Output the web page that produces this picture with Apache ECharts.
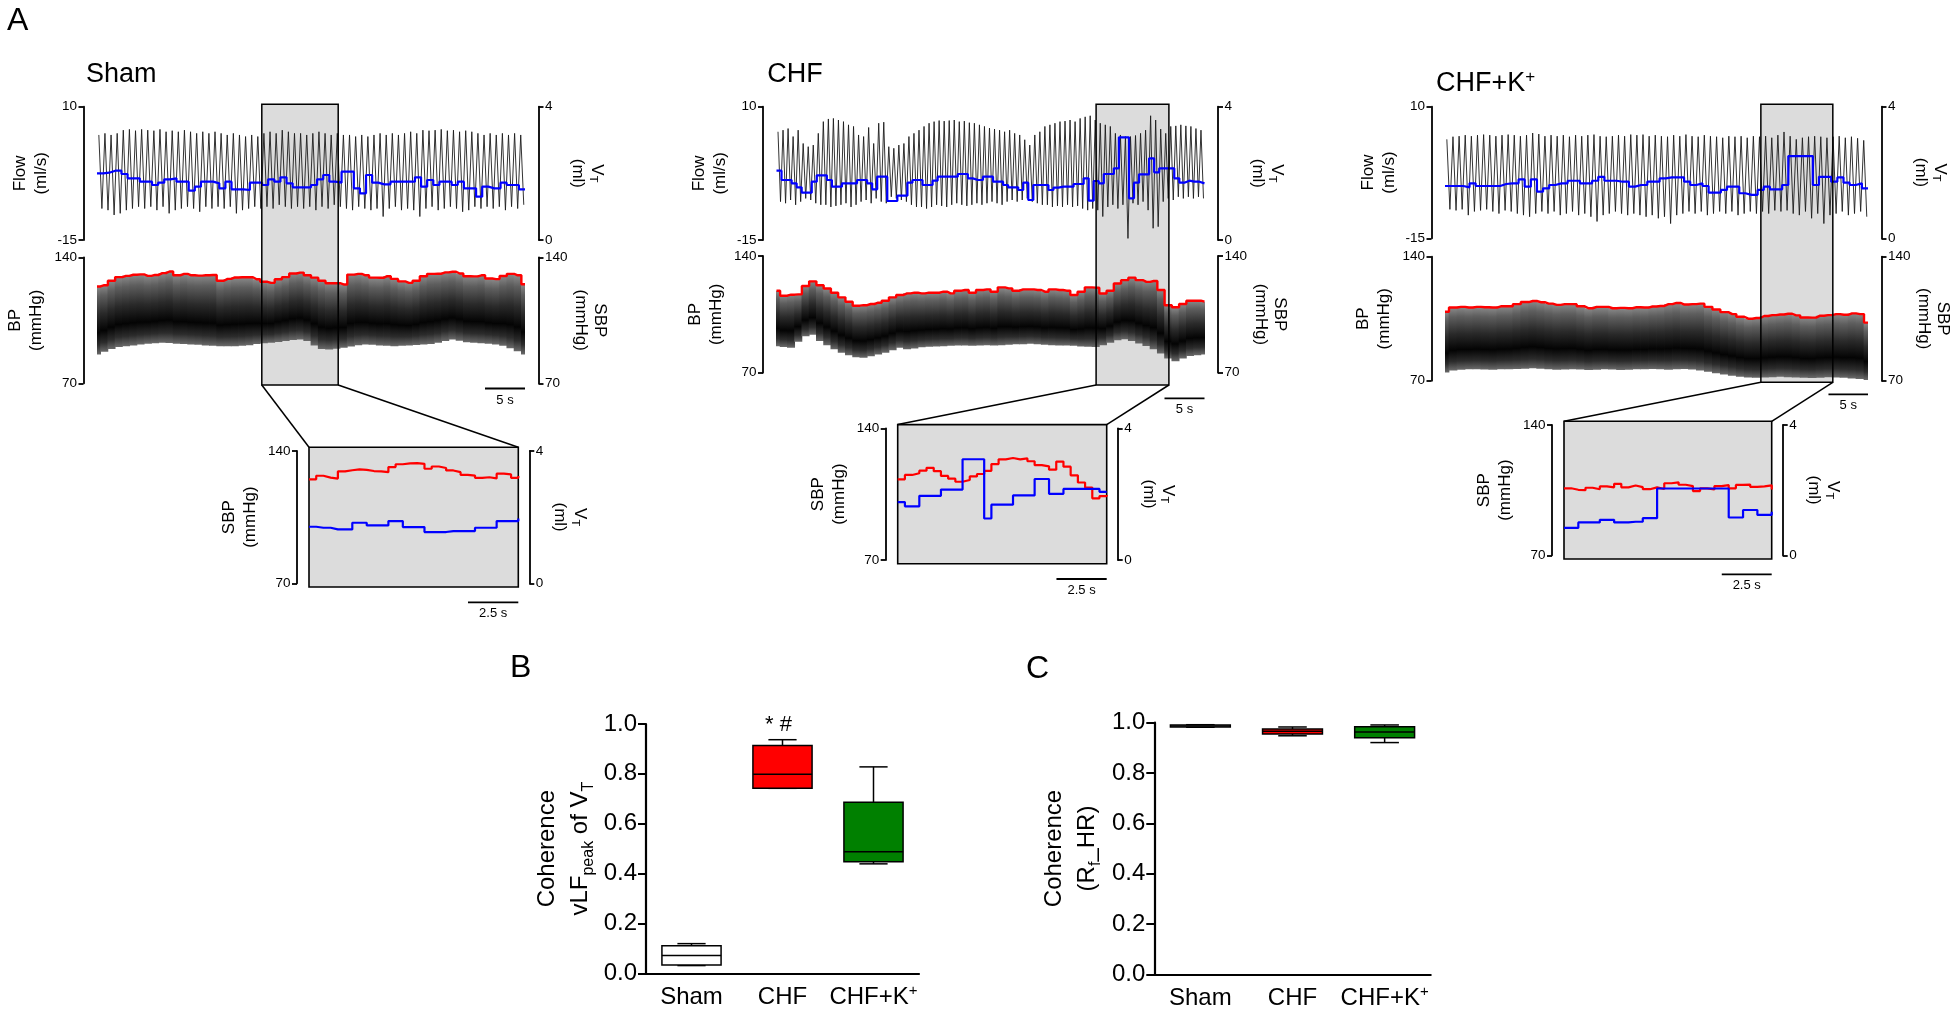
<!DOCTYPE html>
<html><head><meta charset="utf-8">
<script src="https://cdn.jsdelivr.net/npm/echarts@6.0.0/dist/echarts.min.js"></script>
<style>html,body{margin:0;padding:0;background:#fff}#c{width:1960px;height:1014px}</style>
</head><body><div id="c"></div>
<script>
// ===================== DATA =====================
const traceDuration = 53.5;   // s, main traces
const insetDuration = 10.4;   // s, zoomed insets
const flowTicks = [-15, 10];
const vtTicks = [0, 4];
const bpTicks = [70, 140];

// ---- Sham ----
const shamFlowPeak = [4.7,5.0,4.7,5.0, 5.6,5.75,5.5,5.75,5.6,5.5,5.75,5.3,5.5,5.3,5.6, 5.3,5.0,5.3,5.0,5.3, 5.0,4.7,5.0,4.7,4.4,4.7,4.4, 5.0,5.3,5.0,5.6,5.3,5.0, 5.0,4.7,5.0,5.3,5.0,4.7,5.0,4.7, 4.7,4.4,4.7,4.4,4.7,5.0, 4.7,5.0,4.7,5.0,5.3,5.0, 5.6,5.5,5.6,5.75,5.5,5.6,5.3,5.5, 5.3,5.0,4.7,5.0,4.7,5.0,4.7,5.0,4.7];
const shamFlowTrough = [-9.1,-9.4,-10.3,-10.0, -9.4,-9.1,-8.75,-9.1,-8.75,-9.4,-8.75,-10.0,-9.4,-9.1,-8.75, -9.1,-9.7,-8.75,-9.1,-8.75, -9.1,-8.75,-10.0,-9.4,-9.1,-8.75,-9.1, -8.75,-9.1,-8.4,-8.75,-9.1,-8.75, -9.1,-8.75,-9.4,-8.75,-9.1,-8.4,-8.75,-9.1, -9.4,-8.75,-9.1,-9.4,-9.1,-10.6, -9.1,-8.75,-9.4,-9.1,-9.4,-10.6, -9.1,-8.75,-9.4,-9.1,-8.75,-9.1,-9.7,-9.4, -8.75,-9.1,-8.75,-9.1,-8.75,-9.4,-8.75,-9.1,-8.4];
const shamVT = [2.00,2.02,2.08,2.08,1.98,1.85,1.85,1.75,1.75,1.65, 1.72,1.82,1.85,1.75,1.75,1.48,1.60,1.75,1.75,1.70, 1.55,1.75,1.52,1.52,1.50,1.72,1.72,1.65,1.82,1.75, 1.88,1.70,1.58,1.58,1.58,1.65,1.82,1.95,1.75,1.72, 2.05,2.05,1.55,1.40,1.95,1.72,1.67,1.67,1.75,1.75, 1.75,1.75,1.88,1.60,1.80,1.65,1.75,1.75,1.65,1.75, 1.55,1.55,1.30,1.60,1.55,1.55,1.72,1.65,1.65,1.52];
const shamSBP = [123.8,124.5,127.0,129.0,129.7,130.3,130.5,129.7,130.2,131.2, 132.1,130.0,130.8,130.0,129.8,130.0,130.2,127.0,128.0,128.8, 128.9,128.9,127.8,126.4,125.8,127.8,129.0,131.0,131.5,130.0, 128.7,127.0,125.6,125.6,124.9,130.4,130.8,130.0,128.7,128.6, 129.5,128.0,126.6,125.8,127.0,129.5,130.8,130.9,131.6,132.0, 131.0,129.5,129.4,130.0,128.2,127.9,129.6,130.8,130.0,125.0];
const shamDBP = [86.0,87.5,89.0,90.2,90.6,91.0,91.5,92.0,92.3,92.5, 92.4,92.0,91.8,91.6,91.4,91.0,90.8,90.6,90.6,90.6, 90.8,91.2,91.8,92.3,92.5,93.0,93.5,94.0,94.3,93.5, 91.0,89.0,88.8,89.2,89.7,90.5,91.2,91.6,91.4,91.0, 90.8,90.6,90.8,91.0,91.3,91.6,91.8,92.5,93.5,94.3, 93.6,92.8,92.5,92.2,92.0,91.6,90.8,89.5,87.8,86.0];
const shamInsetSBP = [125.0,126.9,125.9,125.4,129.2,129.8,130.3,130.0,129.4,129.2, 128.8,131.5,133.0,133.5,133.6,133.2,130.6,131.8,131.0,129.7, 128.8,127.4,127.0,125.8,126.1,125.5,128.0,127.6,125.8,126.8];
const shamInsetVT = [1.71,1.68,1.68,1.63,1.63,1.63,1.83,1.83,1.75,1.75, 1.75,1.88,1.88,1.70,1.70,1.70,1.55,1.55,1.55,1.58, 1.58,1.58,1.58,1.68,1.68,1.68,1.88,1.88,1.88,1.96];
const shamWindow = [20.6, 30.15];

// ---- CHF ----
const chfFlowPeak = [5.3,5.6,5.9,4.4,5.6,3.1,2.5,2.8,5.0, 7.2,7.7,7.8,7.5,7.2,6.6,6.3,4.7, 4.4,6.1,3.1,6.9,7.1, 2.5,2.2,2.8,3.1,4.4,5.0, 5.6,6.3,6.9,7.2,7.4,7.3,7.4,7.5,7.2,7.3,7.0,6.9,6.6,6.3,6.0,5.8,5.6,5.3,5.6,5.0,4.7, 3.8,2.8,4.7,5.3, 6.3,6.6,6.9,7.2,7.3,7.5,7.2,7.8,8.1,8.3, 7.5,6.9,6.6,6.3,5.0,4.7,4.4, 4.4,4.6,5.0,5.6,8.3,7.5,5.8,5.0,6.3,6.4,6.6,6.4,6.3,5.9,5.6];
const chfFlowTrough = [-7.8,-8.1,-7.5,-8.4,-7.8,-7.2,-7.5,-8.1,-8.4, -8.4,-8.8,-8.6,-8.4,-8.1,-8.8,-8.4,-7.8, -7.5,-8.1,-7.2,-7.8,-8.1, -6.9,-7.2,-7.5,-7.8,-8.4,-8.8, -8.8,-9.1,-8.8,-8.4,-8.6,-8.8,-8.4,-8.1,-8.4,-8.6,-8.4,-8.1,-8.4,-8.1,-7.8,-8.1,-8.4,-7.8,-7.5,-7.8,-7.5, -7.2,-7.8,-8.1,-8.4, -8.4,-8.8,-8.6,-8.8,-8.4,-8.8,-8.6,-9.1,-9.4,-9.1, -9.4,-10.6,-8.8,-8.4,-9.1,-8.4,-14.7, -8.1,-8.4,-7.8,-9.4,-12.8,-12.5,-7.8,-7.2,-7.5,-6.9,-7.2,-6.9,-7.2,-6.9,-7.2];
const chfVT = [2.08,1.80,1.80,1.70,1.58,1.42,1.42,1.75,1.94,1.94, 1.80,1.60,1.60,1.70,1.70,1.70,1.80,1.80,1.70,1.52, 1.90,1.90,1.17,1.17,1.33,1.33,1.72,1.80,1.80,1.65, 1.65,1.78,1.90,1.90,1.90,1.90,1.98,1.98,1.85,1.80, 1.80,1.90,1.90,1.75,1.75,1.65,1.58,1.58,1.50,1.72, 1.20,1.65,1.65,1.65,1.50,1.57,1.60,1.60,1.60,1.68, 1.68,1.85,1.18,1.77,1.70,1.98,1.98,2.15,3.08,3.08, 1.25,1.72,1.97,1.97,2.45,2.03,2.15,2.15,2.15,1.85, 1.72,1.78,1.75,1.75,1.70];
const chfSBP = [119.2,116.2,116.8,117.0,122.0,124.8,122.5,120.5,118.0,115.2, 112.6,110.2,110.5,111.2,112.0,113.2,115.2,116.6,117.6,118.0, 117.6,118.0,118.0,118.6,117.6,119.2,119.6,118.0,119.6,120.0, 118.6,121.2,120.6,119.2,120.0,120.0,119.6,118.6,120.0,119.6, 119.2,116.6,118.6,121.2,121.0,117.5,119.2,123.5,125.5,127.0, 125.5,124.5,125.0,119.6,110.5,109.3,111.2,113.2,113.2,112.6];
const chfDBP = [85.9,85.4,84.9,88.5,91.8,92.8,89.0,86.5,84.0,81.9, 80.5,79.3,78.9,79.8,80.9,82.0,83.5,84.9,84.0,84.5, 85.2,85.5,85.7,85.9,86.1,86.3,86.3,86.1,86.3,86.5, 86.3,86.5,86.8,87.0,87.1,87.3,87.1,86.7,86.5,86.3, 86.3,86.1,85.7,85.5,85.4,86.5,88.0,89.5,90.0,89.0, 87.5,86.0,84.0,81.5,78.5,76.9,78.5,80.0,80.5,80.9];
const chfInsetSBP = [112.9,115.2,116.1,117.5,119.0,117.2,114.7,113.2,111.6,112.5, 114.4,115.7,117.4,121.0,123.5,124.2,123.5,124.0,122.5,120.4, 119.8,118.0,122.3,119.6,115.0,111.2,108.5,102.8,104.0,104.6];
const chfInsetVT = [1.76,1.63,1.63,1.95,1.95,1.95,2.14,2.14,2.14,3.06, 3.06,3.06,1.26,1.68,1.68,1.68,1.96,1.96,1.96,2.46, 2.46,2.01,2.01,2.16,2.16,2.16,2.16,2.16,2.07,2.07];
const chfWindow = [39.95, 49.05];

// ---- CHF+K+ ----
const chfkFlowPeak = [3.8,4.3,4.4,4.6,4.4,4.6,4.7,4.6,4.4,4.6, 4.7,4.6,4.4,4.6,5.0,4.8,4.4,4.6,4.4,4.6, 4.3,4.6,4.4,4.6,4.7,4.4,4.3,4.4,4.6,4.4, 4.7,4.6,4.7,4.4,4.6,4.4,4.3,4.6,4.4,4.7, 4.4,4.3,4.6,4.4,4.3,4.1,4.4,4.3,4.4,4.1, 4.4,4.3,4.4,4.1,4.6,5.2,4.4,3.8,4.1,4.3, 4.4,4.3,4.1,4.3,4.4,4.1,4.3,4.0,3.6];
const chfkFlowTrough = [-9.5,-9.7,-9.5,-10.6,-9.9,-9.7,-9.5,-9.9,-10.3,-9.7, -9.9,-10.3,-10.6,-10.9,-10.3,-9.9,-10.3,-9.9,-10.6,-10.3, -9.9,-10.6,-10.3,-10.9,-11.8,-10.6,-10.3,-9.9,-10.3,-10.6, -10.3,-10.6,-10.9,-10.6,-11.2,-10.9,-12.2,-10.6,-10.3,-9.9, -10.3,-9.9,-10.6,-10.3,-9.9,-10.3,-9.9,-10.6,-10.3,-9.9, -10.3,-9.9,-10.3,-9.7,-9.9,-9.7,-10.3,-10.6,-9.9,-11.2, -10.3,-12.2,-10.6,-10.3,-9.9,-10.6,-10.3,-9.9,-10.9];
const chfkVT = [1.59,1.59,1.59,1.55,1.67,1.59,1.59,1.59,1.59,1.65, 1.67,1.67,1.79,1.57,1.79,1.42,1.52,1.62,1.67,1.67, 1.75,1.75,1.67,1.67,1.75,1.87,1.75,1.75,1.72,1.72, 1.57,1.62,1.62,1.72,1.72,1.82,1.85,1.85,1.85,1.72, 1.62,1.67,1.59,1.39,1.39,1.47,1.57,1.57,1.37,1.32, 1.32,1.47,1.57,1.49,1.49,1.62,2.50,2.50,2.50,2.50, 1.62,1.87,1.87,1.72,1.85,1.69,1.62,1.67,1.52];
const chfkSBP = [108.9,111.3,111.7,111.3,111.7,111.5,111.3,112.0,112.0,113.2, 114.4,115.0,114.3,113.5,112.8,113.2,113.2,112.0,110.9,111.7, 111.7,110.9,111.1,110.9,111.5,111.3,111.9,112.2,113.2,113.9, 113.0,113.2,113.5,111.7,110.2,108.7,107.6,106.1,105.0,105.4, 106.5,107.0,107.4,107.8,106.9,105.7,105.6,106.7,107.0,107.6, 107.2,108.0,107.6,102.8];
const chfkDBP = [74.6,75.8,76.2,76.4,76.5,76.3,76.2,76.4,76.5,76.6, 76.8,77.0,76.8,76.4,76.2,76.3,76.5,76.3,76.0,76.2, 76.4,76.3,76.1,76.2,76.4,76.5,76.6,76.4,76.2,76.4, 76.6,76.3,75.8,75.0,74.2,73.5,72.8,72.2,71.8,71.6, 71.8,72.0,72.2,72.0,71.8,71.6,71.5,71.7,71.9,71.8, 71.6,71.3,71.0,70.4];
const chfkInsetSBP = [106.0,105.2,105.0,106.3,105.5,107.0,106.5,108.4,106.5,107.5, 106.6,105.5,106.5,105.6,108.7,109.2,107.9,107.2,104.5,106.0, 105.4,107.2,107.7,106.0,107.8,108.0,106.8,107.0,107.6,105.4];
const chfkInsetVT = [0.84,0.84,1.01,1.01,1.01,1.09,1.09,1.01,1.01,1.03, 1.03,1.14,1.14,2.05,2.05,2.05,2.05,2.05,2.05,2.05, 2.05,2.05,2.05,1.16,1.16,1.39,1.39,1.24,1.24,1.34];
const chfkWindow = [39.95, 49.05];

// ---- Box plots B & C: [min, Q1, median, Q3, max] ----
const boxCategories = ['Sham', 'CHF', 'CHF+K+'];
const vlfCoherence = [[0.031,0.033,0.071,0.111,0.119],[0.742,0.742,0.798,0.914,0.937],[0.439,0.447,0.488,0.686,0.828]];
const rfhrCoherence = [[0.982,0.983,0.987,0.991,0.992],[0.948,0.955,0.966,0.975,0.983],[0.921,0.940,0.963,0.984,0.991]];
const coherenceTicks = {min: 0, max: 1, interval: 0.2};
const scaleBarMain = 5, scaleBarInset = 2.5;

// ===================== STYLE / LAYOUT =====================
const FONT = 'Arial, "Liberation Sans", Helvetica, sans-serif';
const boxFills = ['#ffffff', '#ff0000', '#008000'];
const layout = [
  {flow:{left:97, top:106.7, width:428, height:133.3}, bp:{left:97, top:257.3, width:428, height:126},
   inset:{left:309, top:451, width:209.3, height:132.3}, rectPad:1.7, barGap:5.2},
  {flow:{left:776.5, top:106.7, width:428, height:133.3}, bp:{left:776.5, top:256, width:428, height:116.7},
   inset:{left:897.7, top:428.3, width:209, height:131.7}, rectPad:12.3, barGap:25.6},
  {flow:{left:1445, top:106.7, width:423, height:131.6}, bp:{left:1445, top:256.7, width:423, height:124},
   inset:{left:1564, top:425, width:207.7, height:130.3}, rectPad:1.6, barGap:13.6}
];
const panels = [
  {peak:shamFlowPeak, trough:shamFlowTrough, vt:shamVT, sbp:shamSBP, dbp:shamDBP, inSBP:shamInsetSBP, inVT:shamInsetVT, win:shamWindow},
  {peak:chfFlowPeak, trough:chfFlowTrough, vt:chfVT, sbp:chfSBP, dbp:chfDBP, inSBP:chfInsetSBP, inVT:chfInsetVT, win:chfWindow},
  {peak:chfkFlowPeak, trough:chfkFlowTrough, vt:chfkVT, sbp:chfkSBP, dbp:chfkDBP, inSBP:chfkInsetSBP, inVT:chfkInsetVT, win:chfkWindow}
];

function wavePoints(peaks, troughs, span) {
  const n = peaks.length, dt = span / n, pts = [];
  for (let i = 0; i < n; i++) { pts.push([(i + 0.3) * dt, peaks[i]]); pts.push([(i + 0.8) * dt, troughs[i]]); }
  return pts;
}
function stepPoints(vals, span) {
  const n = vals.length, dt = span / n;
  const pts = vals.map((v, i) => [i * dt, v]);
  pts.push([span, vals[n - 1]]);
  return pts;
}
function evenPoints(vals, span) {
  const n = vals.length;
  return vals.map((v, i) => [i * span / (n - 1), v]);
}

const nameRich = {
  v: {fontSize:17, lineHeight:19, fontFamily:FONT, color:'#000'},
  s: {fontSize:11, lineHeight:6, verticalAlign:'bottom', fontFamily:FONT, color:'#000'}
};
function yAx(gridIndex, pos, ticks, name, nameGap, rot, offset, lh) {
  return {
    type:'value', gridIndex, position:pos, min:ticks[0], max:ticks[1], offset,
    axisLine:{show:true, onZero:false, lineStyle:{color:'#000', width:1.8}},
    axisTick:{show:true, length:5, customValues:ticks, lineStyle:{color:'#000', width:1.8}},
    axisLabel:{show:true, customValues:ticks, fontSize:13.5, color:'#000', margin:6.5, fontFamily:FONT},
    splitLine:{show:false},
    name, nameLocation:'middle', nameGap, nameRotate:rot,
    nameTextStyle:{fontSize:17, color:'#000', lineHeight:lh, fontFamily:FONT, rich:nameRich}
  };
}

const grids = [], xAxes = [], yAxes = [], series = [];
const T = traceDuration, TI = insetDuration;
layout.forEach(L => {
  grids.push(Object.assign({outerBoundsMode:'none', containLabel:false}, L.flow));
  grids.push(Object.assign({outerBoundsMode:'none', containLabel:false}, L.bp));
});
layout.forEach(L => grids.push(Object.assign({outerBoundsMode:'none', containLabel:false}, L.inset)));
grids.push({left:646, top:724, width:273, height:249.3, outerBoundsMode:'none', containLabel:false});
grids.push({left:1154.3, top:722.7, width:276.4, height:251.6, outerBoundsMode:'none', containLabel:false});

for (let g = 0; g < 6; g++) xAxes.push({type:'value', gridIndex:g, min:0, max:T, show:false});
for (let g = 6; g < 9; g++) xAxes.push({type:'value', gridIndex:g, min:0, max:TI, show:false});
const catLabel = {
  interval:0, fontSize:24, color:'#000', margin:10, fontFamily:FONT, hideOverlap:false,
  formatter: v => v === 'CHF+K+' ? '{n|CHF+K}{p|+}' : '{n|' + v + '}',
  rich:{n:{fontSize:24, lineHeight:28, fontFamily:FONT, color:'#000'},
        p:{fontSize:15, lineHeight:12, verticalAlign:'top', fontFamily:FONT, color:'#000'}}
};
[9, 10].forEach(g => xAxes.push({
  type:'category', gridIndex:g, data:boxCategories, boundaryGap:true,
  axisLine:{lineStyle:{color:'#000', width:2.2}},
  axisTick:{alignWithLabel:true, interval:0, length:7, lineStyle:{color:'#000', width:2}},
  axisLabel:catLabel
}));

panels.forEach((P, p) => {
  const fg = 2 * p, bg = 2 * p + 1;
  yAxes.push(yAx(fg, 'left', flowTicks, 'Flow\n(ml/s)', 32, 90, 13.5, 21));
  yAxes.push(yAx(fg, 'right', vtTicks, '{v|V}{s|T}\n(ml)', 30, -90, 13.5, 19));
  yAxes.push(yAx(bg, 'left', bpTicks, 'BP\n(mmHg)', 36.2, 90, 13.5, 21));
  yAxes.push(yAx(bg, 'right', bpTicks, 'SBP\n(mmHg)', 28.4, -90, 13.5, 19));
});
panels.forEach((P, p) => {
  const ig = 6 + p;
  yAxes.push(yAx(ig, 'left', bpTicks, 'SBP\n(mmHg)', 35.8, 90, 12, 21));
  yAxes.push(yAx(ig, 'right', vtTicks, '{v|V}{s|T}\n(ml)', 20.7, -90, 11, 19.7));
});
const cohRich = {
  n:{fontSize:24, lineHeight:33, fontFamily:FONT, color:'#000'},
  s:{fontSize:16, lineHeight:12, verticalAlign:'bottom', fontFamily:FONT, color:'#000'}
};
function cohAxis(g, name, gap) {
  return {
    type:'value', gridIndex:g, min:coherenceTicks.min, max:coherenceTicks.max, interval:coherenceTicks.interval,
    axisLine:{show:true, lineStyle:{color:'#000', width:2.2}},
    axisTick:{show:true, length:8, lineStyle:{color:'#000', width:2}},
    axisLabel:{fontSize:24, color:'#000', margin:9, fontFamily:FONT, formatter:v => v.toFixed(1)},
    splitLine:{show:false},
    name, nameLocation:'middle', nameGap:gap, nameRotate:90,
    nameTextStyle:{fontSize:24, lineHeight:33, color:'#000', fontFamily:FONT, rich:cohRich}
  };
}
yAxes.push(cohAxis(9, 'Coherence\n{n|vLF}{s|peak}{n| of V}{s|T}', 49));
yAxes.push(cohAxis(10, 'Coherence\n{n|(R}{s|f}{n|_HR)}', 50.7));

const bandStops = [
  {offset:0, color:'#8a8a8a'}, {offset:0.15, color:'#5e5e5e'}, {offset:0.42, color:'#2a2a2a'},
  {offset:0.68, color:'#040404'}, {offset:0.86, color:'#2c2c2c'}, {offset:1, color:'#6a6a6a'}];
function bandRender(params, api) {
  const t = api.value(0), lo = api.value(1), hi = api.value(2), half = api.value(3);
  const a = api.coord([t - half, hi]);
  const b = api.coord([t + half, lo]);
  return {type:'rect', shape:{x:a[0] - 0.4, y:a[1], width:b[0] - a[0] + 0.8, height:b[1] - a[1]},
    style:{fill:new echarts.graphic.LinearGradient(0, 0, 0, 1, bandStops), stroke:null}};
}

panels.forEach((P, p) => {
  const fg = 2 * p, bg = 2 * p + 1, ig = 6 + p;
  const nb = P.sbp.length, halfStep = T / (nb - 1) / 2;
  series.push({type:'line', xAxisIndex:fg, yAxisIndex:2*fg, data:wavePoints(P.peak, P.trough, T),
    symbol:'none', silent:true, z:2, lineStyle:{color:'#1c1c1c', width:0.9}});
  series.push({type:'line', xAxisIndex:fg, yAxisIndex:2*fg+1, data:stepPoints(P.vt, T), step:'end',
    symbol:'none', silent:true, z:4, lineStyle:{color:'#0000ff', width:2.2}});
  series.push({type:'custom', xAxisIndex:bg, yAxisIndex:2*bg, renderItem:bandRender, clip:true, silent:true, z:2,
    encode:{x:0, y:[1,2]}, data:P.sbp.map((s, k) => [k * T / (nb - 1), P.dbp[k], s, halfStep])});
  series.push({type:'line', xAxisIndex:bg, yAxisIndex:2*bg, data:evenPoints(P.sbp, T), step:'middle',
    symbol:'none', silent:true, z:4, lineStyle:{color:'#ff0000', width:2.4}});
  series.push({type:'line', xAxisIndex:ig, yAxisIndex:2*ig, data:evenPoints(P.inSBP, TI), step:'end',
    symbol:'none', silent:true, z:4, lineStyle:{color:'#ff0000', width:2.2}});
  series.push({type:'line', xAxisIndex:ig, yAxisIndex:2*ig+1, data:evenPoints(P.inVT, TI), step:'end',
    symbol:'none', silent:true, z:4, lineStyle:{color:'#0000ff', width:2.2}});
});

function boxRender(params, api) {
  const idx = api.value(0);
  const v = [api.value(1), api.value(2), api.value(3), api.value(4), api.value(5)];
  const band = api.size([1, 0])[0];
  const half = band * 0.325, cap = band * 0.155;
  const cx = api.coord([idx, v[2]])[0];
  const y = val => api.coord([idx, val])[1];
  const ls = {stroke:'#000', lineWidth:1.5};
  return {type:'group', children:[
    {type:'line', shape:{x1:cx, y1:y(v[0]), x2:cx, y2:y(v[1])}, style:ls},
    {type:'line', shape:{x1:cx, y1:y(v[3]), x2:cx, y2:y(v[4])}, style:ls},
    {type:'line', shape:{x1:cx - cap, y1:y(v[0]), x2:cx + cap, y2:y(v[0])}, style:ls},
    {type:'line', shape:{x1:cx - cap, y1:y(v[4]), x2:cx + cap, y2:y(v[4])}, style:ls},
    {type:'rect', shape:{x:cx - half, y:y(v[3]), width:2 * half, height:y(v[1]) - y(v[3])},
      style:{fill:boxFills[idx], stroke:'#000', lineWidth:1.5}},
    {type:'line', shape:{x1:cx - half, y1:y(v[2]), x2:cx + half, y2:y(v[2])}, style:ls}
  ]};
}
series.push({type:'custom', xAxisIndex:9, yAxisIndex:18, renderItem:boxRender, clip:false, silent:true,
  encode:{x:0, y:[1,2,3,4,5]}, data:vlfCoherence.map((b, i) => [i].concat(b))});
series.push({type:'custom', xAxisIndex:10, yAxisIndex:19, renderItem:boxRender, clip:false, silent:true,
  encode:{x:0, y:[1,2,3,4,5]}, data:rfhrCoherence.map((b, i) => [i].concat(b))});

const option = {
  animation:false, backgroundColor:'#ffffff', textStyle:{fontFamily:FONT},
  grid:grids, xAxis:xAxes, yAxis:yAxes, series
};
const chart = echarts.init(document.getElementById('c'), null, {renderer:'canvas', width:1960, height:1014});
chart.setOption(option);

// ============ annotations positioned through the axes ============
function txt(x, y, text, size, extra) {
  return {type:'text', x, y, z:60, silent:true, style:Object.assign({
    text, fill:'#000', font:size + 'px ' + FONT, fontSize:size, fontFamily:FONT,
    align:'left', verticalAlign:'middle', textAlign:'left', textVerticalAlign:'middle'}, extra || {})};
}
function seg(x1, y1, x2, y2, w, z) {
  return {type:'line', z:z || 50, silent:true, shape:{x1, y1, x2, y2}, style:{stroke:'#000', lineWidth:w}};
}
const gr = [];
panels.forEach((P, p) => {
  const L = layout[p], fg = 2 * p, bg = 2 * p + 1, ig = 6 + p;
  const pf = v => chart.convertToPixel({xAxisIndex:fg, yAxisIndex:2*fg}, v);
  const pb = v => chart.convertToPixel({xAxisIndex:bg, yAxisIndex:2*bg}, v);
  const pi = v => chart.convertToPixel({xAxisIndex:ig, yAxisIndex:2*ig}, v);
  const a = pf([P.win[0], flowTicks[1]]), b = pf([P.win[1], flowTicks[1]]);
  const yTop = a[1] - 2.4;
  const yBot = pb([0, bpTicks[0]])[1] + L.rectPad;
  gr.push({type:'rect', z:0, silent:true, shape:{x:a[0], y:yTop, width:b[0] - a[0], height:yBot - yTop},
    style:{fill:'#dcdcdc', stroke:null}});
  gr.push({type:'rect', z:50, silent:true, shape:{x:a[0], y:yTop, width:b[0] - a[0], height:yBot - yTop},
    style:{fill:null, stroke:'#000', lineWidth:1.5}});
  const it = pi([0, bpTicks[1]]), ib = pi([TI, bpTicks[0]]);
  const boxTop = it[1] - 3.7, boxBot = ib[1] + 3.7;
  gr.push({type:'rect', z:0, silent:true, shape:{x:it[0], y:boxTop, width:ib[0] - it[0], height:boxBot - boxTop},
    style:{fill:'#dcdcdc', stroke:'#000', lineWidth:1.6}});
  gr.push(seg(a[0], yBot, it[0], boxTop, 1.5));
  gr.push(seg(b[0], yBot, ib[0], boxTop, 1.5));
  const s0 = pb([T - scaleBarMain, bpTicks[0]]), s1 = pb([T, bpTicks[0]]);
  const sy = s0[1] + L.barGap;
  gr.push(seg(s0[0], sy, s1[0], sy, 1.8));
  gr.push(txt((s0[0] + s1[0]) / 2, sy + 11.5, '5 s', 13, {align:'center', textAlign:'center'}));
  const c0 = pi([TI - scaleBarInset, bpTicks[0]]), c1 = pi([TI, bpTicks[0]]);
  const cy = c0[1] + 19;
  gr.push(seg(c0[0], cy, c1[0], cy, 1.8));
  gr.push(txt((c0[0] + c1[0]) / 2, cy + 11, '2.5 s', 13, {align:'center', textAlign:'center'}));
});
gr.push(txt(7, 21.5, 'A', 32));
gr.push(txt(86, 74.7, 'Sham', 27));
gr.push(txt(767.3, 74.7, 'CHF', 27));
gr.push(txt(1436, 84, '{m|CHF+K}{p|+}', 27, {rich:{
  m:{fontSize:27, lineHeight:30, fontFamily:FONT, fill:'#000'},
  p:{fontSize:17, lineHeight:12, verticalAlign:'top', fontFamily:FONT, fill:'#000'}}}));
gr.push(txt(510, 668.5, 'B', 32));
gr.push(txt(1026, 669, 'C', 32));
const star = chart.convertToPixel({xAxisIndex:9, yAxisIndex:18}, ['CHF', coherenceTicks.max]);
gr.push(txt(star[0] - 4, star[1] + 1, '* #', 22, {align:'center', textAlign:'center'}));
chart.setOption({graphic:{elements:gr}});
</script>
</body></html>
